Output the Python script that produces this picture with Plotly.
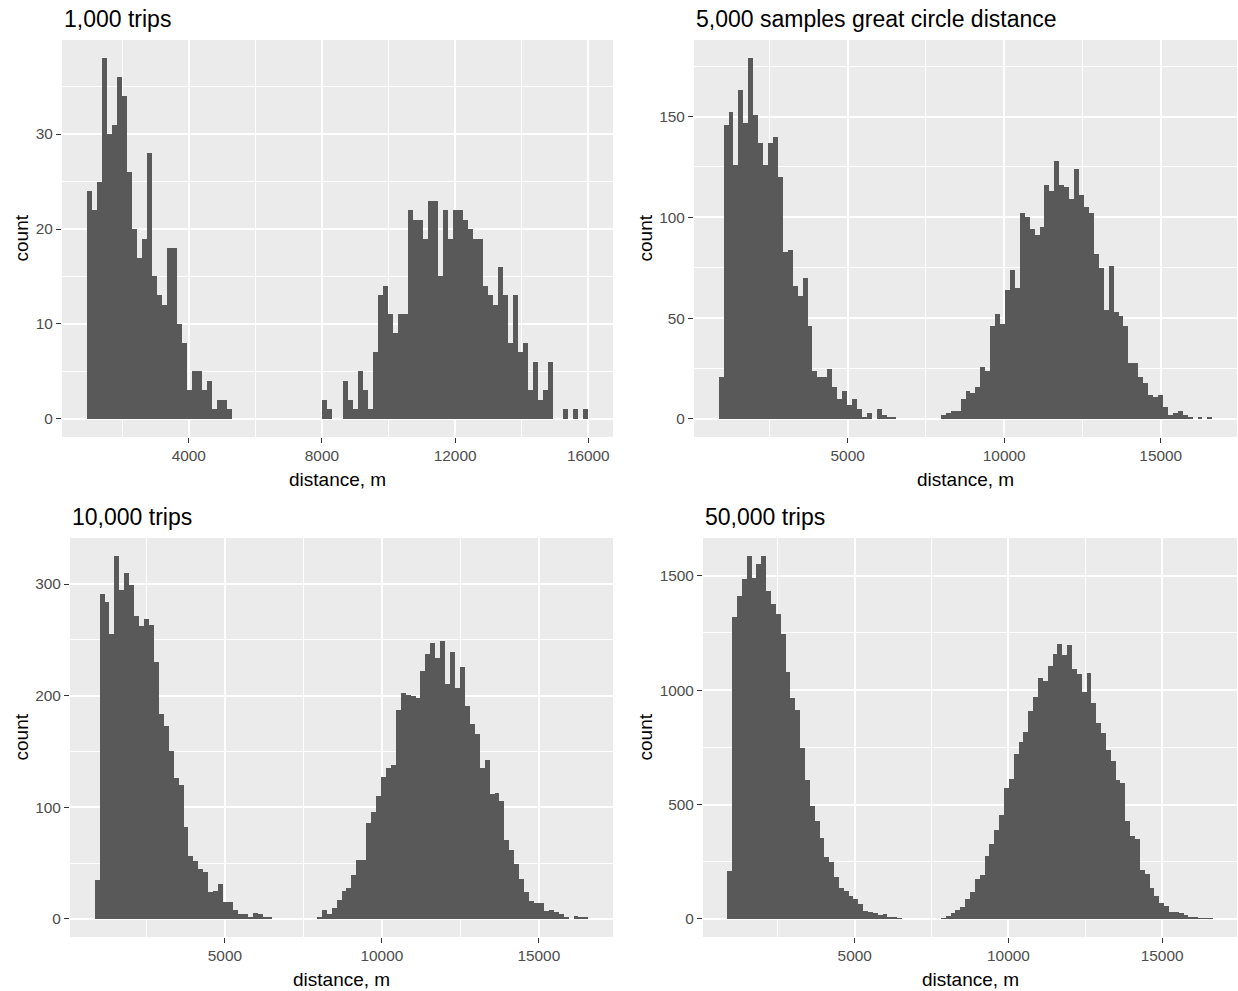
import plotly.graph_objects as go

# ---------------- data (counts per histogram bin, 100 bins each) ----------------
titles = ["1,000 trips", "5,000 samples great circle distance", "10,000 trips", "50,000 trips"]

bin_start = [945, 881, 851, 855]          # left edge of first bin (m)
bin_width = [150.45, 157.66, 157.26, 157.9]

counts_1k = ([24, 22, 25, 38, 30, 31, 36, 34, 26, 20, 17, 19, 28, 15, 13, 12, 18, 18, 10, 8,
              3, 5, 5, 3, 4, 1, 2, 2, 1]
             + [0] * 18
             + [2, 1, 0, 0, 4, 2, 1, 5, 3, 1, 7, 13, 14, 11, 9, 11, 11, 22, 21, 21,
                19, 23, 23, 15, 22, 19, 22, 22, 21, 20, 19, 19, 14, 13, 12, 16, 13, 8, 13, 7,
                8, 3, 6, 2, 3, 6, 0, 0, 1, 0, 1, 0, 1])

counts_5k = ([21, 146, 152, 126, 163, 147, 179, 151, 137, 126, 137, 140, 120, 83, 84, 66, 61, 70,
              46, 24, 21, 21, 25, 16, 10, 14, 7, 10, 5, 1, 3, 0, 5, 2, 1, 1]
             + [0] * 9
             + [2, 3, 4, 4, 10, 14, 13, 16, 26, 24, 46, 52, 47, 64, 74, 65, 102, 100, 94, 91,
                95, 116, 113, 128, 116, 115, 109, 124, 111, 105, 102, 82, 75, 54, 76, 53, 51, 46,
                28, 28, 21, 18, 12, 11, 12, 6, 2, 3, 4, 2, 1, 0, 1, 0, 1])

counts_10k = ([35, 291, 284, 255, 325, 295, 310, 299, 271, 262, 269, 263, 230, 184, 173, 150, 126,
               120, 82, 56, 52, 45, 42, 24, 25, 31, 15, 15, 8, 4, 4, 1, 5, 4, 1, 1]
              + [0] * 9
              + [2, 8, 4, 10, 17, 25, 28, 39, 53, 53, 86, 96, 110, 127, 135, 138, 187, 202, 201,
                 200, 198, 222, 237, 247, 234, 249, 210, 239, 207, 226, 191, 175, 166, 135, 142,
                 112, 113, 106, 71, 62, 49, 36, 24, 16, 14, 14, 7, 8, 6, 4, 1, 0, 3, 1, 2])

counts_50k = ([209, 1319, 1411, 1484, 1586, 1490, 1552, 1586, 1433, 1376, 1335, 1244, 1081, 965,
               914, 748, 608, 494, 428, 355, 269, 248, 184, 136, 121, 99, 85, 66, 35, 29, 26, 15,
               20, 9, 5, 3]
              + [0] * 8
              + [3, 13, 25, 37, 53, 88, 117, 173, 193, 275, 326, 389, 453, 572, 611, 722, 772,
                 819, 909, 972, 1053, 1038, 1104, 1159, 1200, 1155, 1196, 1094, 1070, 991, 1075,
                 944, 857, 811, 738, 692, 607, 596, 430, 363, 348, 213, 194, 135, 99, 70, 58, 32,
                 29, 25, 15, 5, 4, 3, 2, 2])

all_counts = [counts_1k, counts_5k, counts_10k, counts_50k]

x_major = [4000, 5000, 5000, 5000]
y_major = [10, 50, 100, 500]

# ---------------- layout geometry (pixels) ----------------
W, H = 1238, 991
boxes = [(62, 613, 40, 437), (694, 1237, 40, 437), (70, 613, 538, 937), (703, 1237, 538, 937)]

FONT = "Liberation Sans, Arial, sans-serif"
BAR = "#595959"

fig = go.Figure()
annotations = []
layout_axes = {}

for i in range(4):
    n = len(all_counts[i])
    w = bin_width[i]
    s = bin_start[i]
    centers = [s + (k + 0.5) * w for k in range(n)]
    xa = "x" if i == 0 else f"x{i+1}"
    ya = "y" if i == 0 else f"y{i+1}"
    fig.add_trace(go.Bar(x=centers, y=all_counts[i], width=[w] * n,
                         marker=dict(color=BAR, line=dict(width=0)),
                         xaxis=xa, yaxis=ya, showlegend=False, hoverinfo="x+y"))

    x0p, x1p, y0p, y1p = boxes[i]
    lo, hi = s, s + n * w
    span = hi - lo
    xr = [lo - 0.05 * span, hi + 0.05 * span]
    ymax = max(all_counts[i])
    yr = [-0.05 * ymax, 1.05 * ymax]

    common = dict(
        showline=False, zeroline=False, ticks="outside", ticklen=5, tickwidth=1.3,
        tickcolor="#333333", tickfont=dict(family=FONT, size=15.4, color="#4D4D4D"),
        showgrid=True, gridcolor="white", gridwidth=2, tickformat="d",
    )
    xkey = "xaxis" if i == 0 else f"xaxis{i+1}"
    ykey = "yaxis" if i == 0 else f"yaxis{i+1}"
    layout_axes[xkey] = dict(
        common, domain=[x0p / W, x1p / W], anchor=ya, range=xr,
        tick0=0, dtick=x_major[i],
        minor=dict(tick0=0, dtick=x_major[i] / 2, showgrid=True, gridcolor="white", gridwidth=1),
    )
    layout_axes[ykey] = dict(
        common, domain=[1 - y1p / H, 1 - y0p / H], anchor=xa, range=yr,
        tick0=0, dtick=y_major[i],
        minor=dict(tick0=0, dtick=y_major[i] / 2, showgrid=True, gridcolor="white", gridwidth=1),
    )

    # panel title
    annotations.append(dict(text=titles[i], xref="paper", yref="paper",
                            x=x0p / W, y=1 - (y0p - 21) / H, xanchor="left", yanchor="middle",
                            showarrow=False, font=dict(family=FONT, size=23, color="black")))
    # x axis title
    annotations.append(dict(text="distance, m", xref="paper", yref="paper",
                            x=(x0p + x1p) / 2 / W, y=1 - (y1p + 42) / H,
                            xanchor="center", yanchor="middle",
                            showarrow=False, font=dict(family=FONT, size=19, color="black")))
    # y axis title
    annotations.append(dict(text="count", xref="paper", yref="paper",
                            x=(21 if i % 2 == 0 else 645) / W, y=1 - (y0p + y1p) / 2 / H,
                            xanchor="center", yanchor="middle", textangle=-90,
                            showarrow=False, font=dict(family=FONT, size=19, color="black")))

fig.update_layout(
    width=W, height=H, margin=dict(l=0, r=0, t=0, b=0),
    paper_bgcolor="white", plot_bgcolor="#EBEBEB",
    bargap=0, barmode="overlay", showlegend=False,
    font=dict(family=FONT),
    annotations=annotations,
    **layout_axes,
)

fig.write_html("out.html")
